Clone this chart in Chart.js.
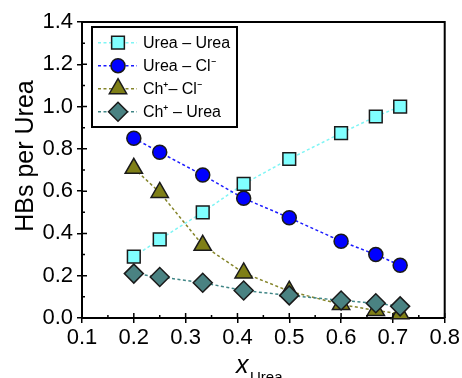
<!DOCTYPE html>
<html><head><meta charset="utf-8">
<script src="https://cdn.jsdelivr.net/npm/chart.js@4/dist/chart.umd.min.js"></script>
<style>html,body{margin:0;padding:0;background:#fff;}</style>
</head><body>
<canvas id="c" width="462" height="378"></canvas>
<script>
const xUrea = [0.2, 0.25, 0.333, 0.412, 0.5, 0.6, 0.667, 0.714];
const ureaUrea = [0.29, 0.372, 0.50, 0.634, 0.752, 0.874, 0.953, 1.0];
const ureaCl = [0.85, 0.784, 0.676, 0.566, 0.474, 0.363, 0.30, 0.249];
const chCl = [0.708, 0.594, 0.344, 0.213, 0.127, 0.064, 0.036, 0.02];
const chUrea = [0.21, 0.194, 0.167, 0.13, 0.107, 0.083, 0.07, 0.055];
const seriesLabels = ['Urea \u2013 Urea', 'Urea \u2013 Cl\u207B', 'Ch\u207A\u2013 Cl\u207B', 'Ch\u207A \u2013 Urea'];
const xMajorTicks = [0.1, 0.2, 0.3, 0.4, 0.5, 0.6, 0.7, 0.8];
const yMajorTicks = [0.0, 0.2, 0.4, 0.6, 0.8, 1.0, 1.2, 1.4];
const xMinorTicks = [0.15, 0.25, 0.35, 0.45, 0.55, 0.65, 0.75];
const yMinorTicks = [0.1, 0.3, 0.5, 0.7, 0.9, 1.1, 1.3];

const FONT = '"Liberation Sans", Arial, sans-serif';
const styles = [
  {line:'#7ff5f5', fill:'#80ffff', shape:'rect', r:9},
  {line:'#1a1aff', fill:'#0000ff', shape:'circle', r:7},
  {line:'#85852a', fill:'#7f7f17', shape:'triangle', r:10},
  {line:'#3f8585', fill:'#4a8282', shape:'rectRot', r:9.5}
];
const seriesData = [ureaUrea, ureaCl, chCl, chUrea];
const orders = [3, 2, 1, 0];

const datasets = seriesData.map((vals, i) => ({
  label: seriesLabels[i],
  data: xUrea.map((x, j) => ({x: x, y: vals[j]})),
  borderColor: styles[i].line,
  borderWidth: 1.5,
  borderDash: [3, 2.5],
  pointStyle: styles[i].shape,
  pointRadius: styles[i].r,
  pointHoverRadius: styles[i].r,
  pointBackgroundColor: styles[i].fill,
  pointBorderColor: '#1a1a1a',
  pointBorderWidth: 1.5,
  showLine: true,
  tension: 0,
  clip: false,
  order: orders[i]
}));

function drawMarker(ctx, shape, r, x, y) {
  ctx.beginPath();
  if (shape === 'rect') {
    const s = Math.SQRT1_2 * r;
    ctx.rect(x - s, y - s, 2 * s, 2 * s);
  } else if (shape === 'circle') {
    ctx.arc(x, y, r, 0, Math.PI * 2);
  } else if (shape === 'triangle') {
    let a = 0;
    ctx.moveTo(x + Math.sin(a) * r, y - Math.cos(a) * r);
    a += Math.PI * 2 / 3;
    ctx.lineTo(x + Math.sin(a) * r, y - Math.cos(a) * r);
    a += Math.PI * 2 / 3;
    ctx.lineTo(x + Math.sin(a) * r, y - Math.cos(a) * r);
    ctx.closePath();
  } else {
    ctx.moveTo(x - r, y); ctx.lineTo(x, y - r); ctx.lineTo(x + r, y); ctx.lineTo(x, y + r); ctx.closePath();
  }
  ctx.fill(); ctx.stroke();
}

const decor = {
  id: 'decor',
  afterDraw(chart) {
    const ctx = chart.ctx;
    const a = chart.chartArea;
    const xs = chart.scales.x, ys = chart.scales.y;
    ctx.save();
    ctx.strokeStyle = '#000';
    ctx.lineWidth = 2;
    ctx.setLineDash([]);
    // frame
    ctx.beginPath();
    ctx.moveTo(a.left, a.top); ctx.lineTo(a.right, a.top); ctx.lineTo(a.right, a.bottom);
    ctx.stroke();
    ctx.lineWidth = 1.5;
    // inner ticks
    ctx.beginPath();
    xMajorTicks.forEach(v => { const p = xs.getPixelForValue(v); ctx.moveTo(p, a.bottom); ctx.lineTo(p, a.bottom - 5); });
    xMinorTicks.forEach(v => { const p = xs.getPixelForValue(v); ctx.moveTo(p, a.bottom); ctx.lineTo(p, a.bottom - 3); });
    yMajorTicks.forEach(v => { const p = ys.getPixelForValue(v); ctx.moveTo(a.left, p); ctx.lineTo(a.left + 5, p); });
    yMinorTicks.forEach(v => { const p = ys.getPixelForValue(v); ctx.moveTo(a.left, p); ctx.lineTo(a.left + 3, p); });
    ctx.stroke();

    // axis titles
    ctx.fillStyle = '#000';
    ctx.save();
    ctx.translate(26, 156);
    ctx.rotate(-Math.PI / 2);
    ctx.font = '25px ' + FONT;
    ctx.textAlign = 'center';
    ctx.textBaseline = 'middle';
    ctx.fillText('HBs per Urea', 0, 0);
    ctx.restore();
    ctx.textAlign = 'left';
    ctx.textBaseline = 'alphabetic';
    ctx.font = 'italic 25px ' + FONT;
    ctx.fillText('x', 236, 373);
    ctx.font = '15px ' + FONT;
    ctx.fillText('Urea', 250, 382);

    // legend
    const lx = 92, ly = 27, lw = 145, lh = 100;
    ctx.fillStyle = '#fff';
    ctx.fillRect(lx, ly, lw, lh);
    ctx.lineWidth = 2;
    ctx.strokeStyle = '#000';
    ctx.strokeRect(lx, ly, lw, lh);
    styles.forEach((s, i) => {
      const y = 42.7 + i * 23;
      ctx.setLineDash([3, 2.5]);
      ctx.lineWidth = 1.5;
      ctx.strokeStyle = s.line;
      ctx.beginPath(); ctx.moveTo(98, y); ctx.lineTo(137, y); ctx.stroke();
      ctx.setLineDash([]);
      ctx.fillStyle = s.fill;
      ctx.strokeStyle = '#1a1a1a';
      drawMarker(ctx, s.shape, s.r, 118, y);
      ctx.fillStyle = '#000';
      ctx.font = '16px ' + FONT;
      ctx.textBaseline = 'middle';
      ctx.fillText(seriesLabels[i], 143, y + 1);
    });
    ctx.restore();
  }
};

new Chart(document.getElementById('c'), {
  type: 'scatter',
  data: { datasets: datasets },
  options: {
    responsive: false,
    animation: false,
    devicePixelRatio: 1,
    layout: { padding: { left: 0, right: 17, top: 22, bottom: 0 } },
    plugins: { legend: { display: false }, tooltip: { enabled: false } },
    scales: {
      x: {
        type: 'linear', min: 0.1, max: 0.8,
        afterBuildTicks: s => { s.ticks = xMajorTicks.map(v => ({value: v})); },
        afterFit: s => { s.height = 60; },
        grid: { display: true, drawOnChartArea: false, drawTicks: true, tickLength: 5, color: '#000', lineWidth: 1.5 },
        border: { display: true, color: '#000', width: 2 },
        ticks: { color: '#000', font: { family: FONT, size: 22 }, padding: 2, maxRotation: 0, autoSkip: false,
                 callback: v => Number(v).toFixed(1) }
      },
      y: {
        type: 'linear', min: 0, max: 1.4,
        afterBuildTicks: s => { s.ticks = yMajorTicks.map(v => ({value: v})); },
        afterFit: s => { s.width = 82; },
        grid: { display: true, drawOnChartArea: false, drawTicks: true, tickLength: 5, color: '#000', lineWidth: 1.5 },
        border: { display: true, color: '#000', width: 2 },
        ticks: { color: '#000', font: { family: FONT, size: 22 }, padding: 4, autoSkip: false,
                 callback: v => Number(v).toFixed(1) }
      }
    }
  },
  plugins: [decor]
});
</script>
</body></html>
